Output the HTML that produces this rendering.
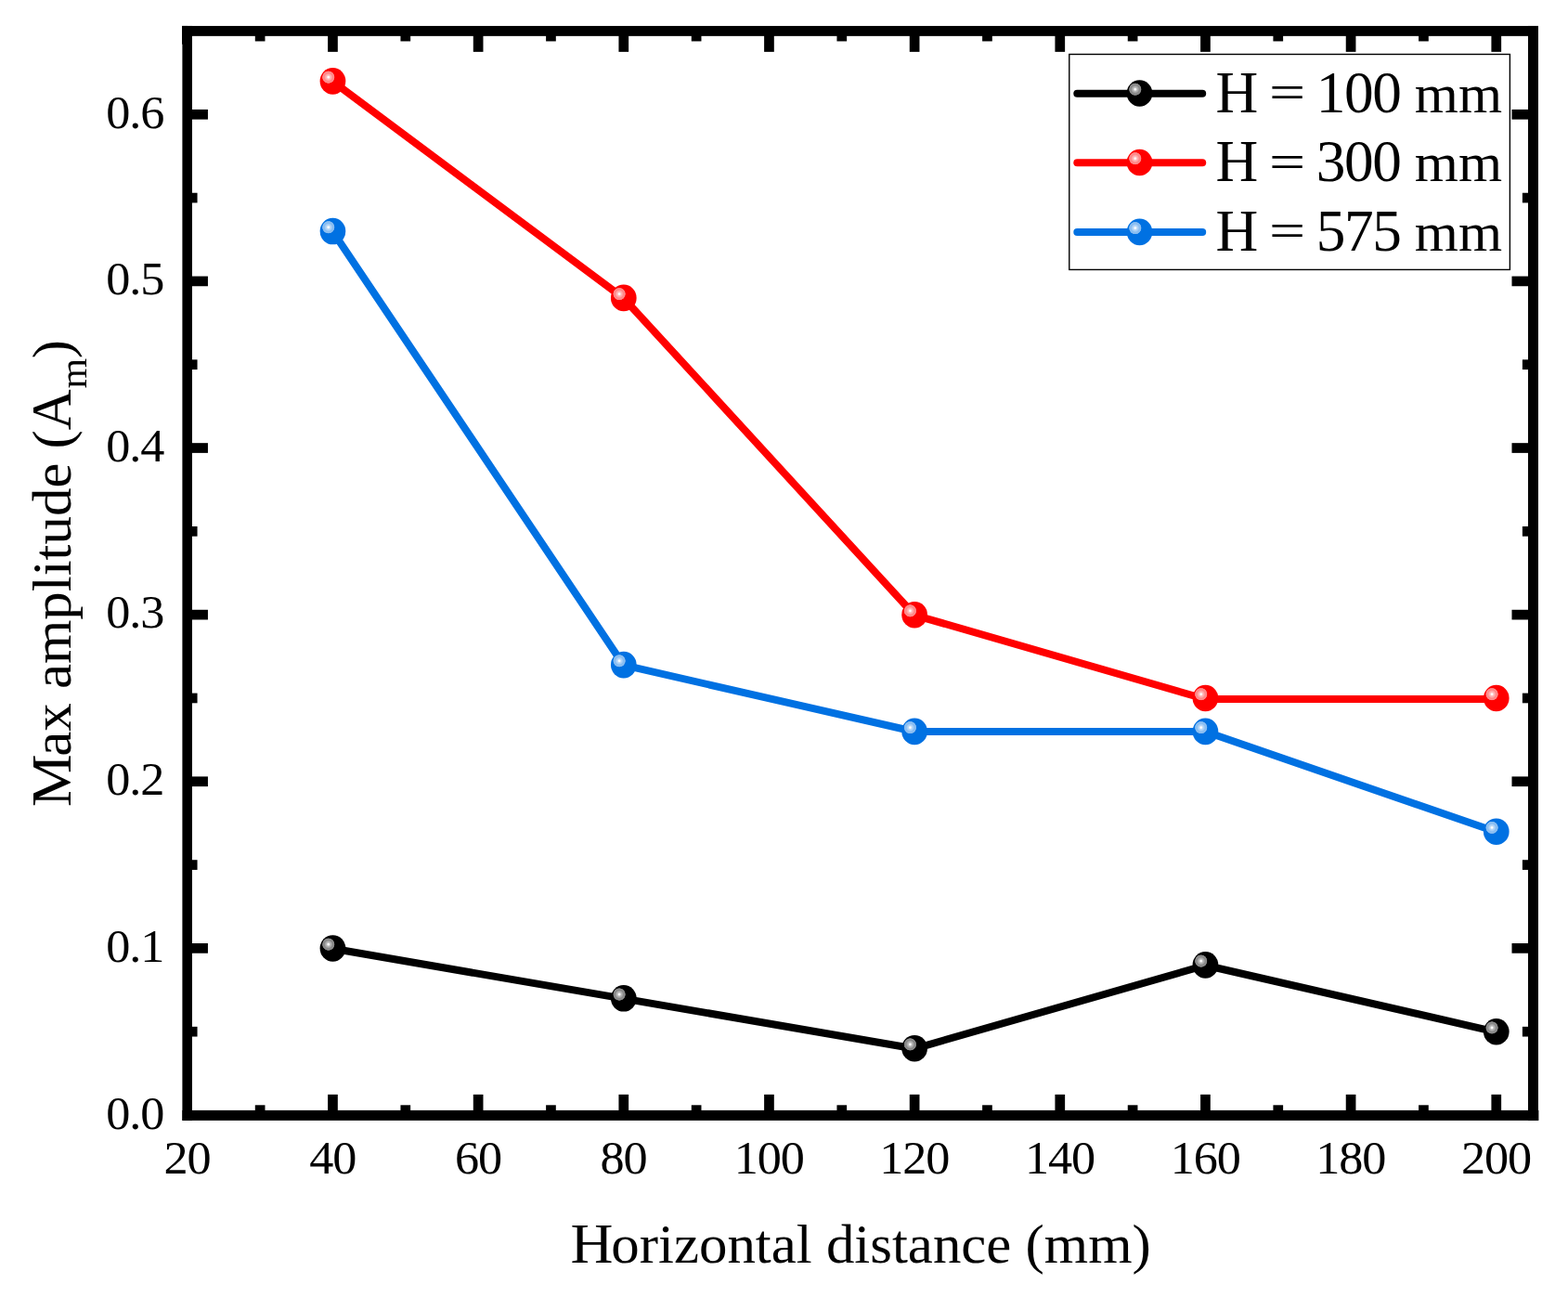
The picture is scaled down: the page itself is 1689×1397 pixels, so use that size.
<!DOCTYPE html>
<html lang="en">
<head>
<meta charset="utf-8">
<title>Max amplitude vs horizontal distance</title>
<style>
html,body{margin:0;padding:0;background:#fff;}
body{width:1689px;height:1397px;overflow:hidden;}
svg{display:block;}
text{font-family:"Liberation Serif","DejaVu Serif",serif;fill:#000;}
.tick{font-size:52.25px;letter-spacing:-1.125px;}
.lab{font-size:61.0px;}
.leg{font-size:60.6px;}
</style>
</head>
<body>
<svg width="1689" height="1397" viewBox="0 0 1689 1397" role="img" aria-label="Max amplitude versus horizontal distance for three heights">
<defs>
<radialGradient id="gk" gradientUnits="userSpaceOnUse" cx="-4.7" cy="-4.3" r="6.9" fx="-4.7" fy="-4.3"><stop offset="0" stop-color="#ffffff"/><stop offset="0.1" stop-color="#ffffff"/><stop offset="0.28" stop-color="#bdbdbd"/><stop offset="0.5" stop-color="#a3a3a3"/><stop offset="0.66" stop-color="#858585"/><stop offset="0.84" stop-color="#8f8f8f"/><stop offset="0.94" stop-color="#707070"/><stop offset="1.0" stop-color="#000000"/></radialGradient>
<g id="mk"><ellipse rx="13.85" ry="14.3" fill="#000000"/><circle cx="-4.7" cy="-4.3" r="6.9" fill="url(#gk)"/></g>
<radialGradient id="gr" gradientUnits="userSpaceOnUse" cx="-4.7" cy="-4.3" r="6.9" fx="-4.7" fy="-4.3"><stop offset="0" stop-color="#ffffff"/><stop offset="0.1" stop-color="#ffffff"/><stop offset="0.28" stop-color="#ffbdbd"/><stop offset="0.5" stop-color="#ffa3a3"/><stop offset="0.66" stop-color="#ff8585"/><stop offset="0.84" stop-color="#ff8f8f"/><stop offset="0.94" stop-color="#ff7070"/><stop offset="1.0" stop-color="#ff0000"/></radialGradient>
<g id="mr"><ellipse rx="13.85" ry="14.3" fill="#ff0000"/><circle cx="-4.7" cy="-4.3" r="6.9" fill="url(#gr)"/></g>
<radialGradient id="gb" gradientUnits="userSpaceOnUse" cx="-4.7" cy="-4.3" r="6.9" fx="-4.7" fy="-4.3"><stop offset="0" stop-color="#ffffff"/><stop offset="0.1" stop-color="#ffffff"/><stop offset="0.28" stop-color="#bddaf7"/><stop offset="0.5" stop-color="#a3ccf5"/><stop offset="0.66" stop-color="#85bbf1"/><stop offset="0.84" stop-color="#8fc1f2"/><stop offset="0.94" stop-color="#70afef"/><stop offset="1.0" stop-color="#0071e2"/></radialGradient>
<g id="mb"><ellipse rx="13.85" ry="14.3" fill="#0071e2"/><circle cx="-4.7" cy="-4.3" r="6.9" fill="url(#gb)"/></g>
</defs>
<rect x="0" y="0" width="1689" height="1397" fill="#ffffff"/>
<g fill="#000">
<rect x="353.12" y="1178.90" width="10.7" height="19.00"/><rect x="353.12" y="36.85" width="10.7" height="19.00"/>
<rect x="509.78" y="1178.90" width="10.7" height="19.00"/><rect x="509.78" y="36.85" width="10.7" height="19.00"/>
<rect x="666.44" y="1178.90" width="10.7" height="19.00"/><rect x="666.44" y="36.85" width="10.7" height="19.00"/>
<rect x="823.11" y="1178.90" width="10.7" height="19.00"/><rect x="823.11" y="36.85" width="10.7" height="19.00"/>
<rect x="979.77" y="1178.90" width="10.7" height="19.00"/><rect x="979.77" y="36.85" width="10.7" height="19.00"/>
<rect x="1136.43" y="1178.90" width="10.7" height="19.00"/><rect x="1136.43" y="36.85" width="10.7" height="19.00"/>
<rect x="1293.09" y="1178.90" width="10.7" height="19.00"/><rect x="1293.09" y="36.85" width="10.7" height="19.00"/>
<rect x="1449.75" y="1178.90" width="10.7" height="19.00"/><rect x="1449.75" y="36.85" width="10.7" height="19.00"/>
<rect x="1606.42" y="1178.90" width="10.7" height="19.00"/><rect x="1606.42" y="36.85" width="10.7" height="19.00"/>
<rect x="274.79" y="1190.30" width="10.7" height="7.60"/><rect x="274.79" y="36.85" width="10.7" height="7.60"/>
<rect x="431.45" y="1190.30" width="10.7" height="7.60"/><rect x="431.45" y="36.85" width="10.7" height="7.60"/>
<rect x="588.11" y="1190.30" width="10.7" height="7.60"/><rect x="588.11" y="36.85" width="10.7" height="7.60"/>
<rect x="744.77" y="1190.30" width="10.7" height="7.60"/><rect x="744.77" y="36.85" width="10.7" height="7.60"/>
<rect x="901.44" y="1190.30" width="10.7" height="7.60"/><rect x="901.44" y="36.85" width="10.7" height="7.60"/>
<rect x="1058.10" y="1190.30" width="10.7" height="7.60"/><rect x="1058.10" y="36.85" width="10.7" height="7.60"/>
<rect x="1214.76" y="1190.30" width="10.7" height="7.60"/><rect x="1214.76" y="36.85" width="10.7" height="7.60"/>
<rect x="1371.42" y="1190.30" width="10.7" height="7.60"/><rect x="1371.42" y="36.85" width="10.7" height="7.60"/>
<rect x="1528.09" y="1190.30" width="10.7" height="7.60"/><rect x="1528.09" y="36.85" width="10.7" height="7.60"/>
<rect x="204.95" y="1016.03" width="19.00" height="10.7"/><rect x="1628.50" y="1016.03" width="19.50" height="10.7"/>
<rect x="204.95" y="836.41" width="19.00" height="10.7"/><rect x="1628.50" y="836.41" width="19.50" height="10.7"/>
<rect x="204.95" y="656.79" width="19.00" height="10.7"/><rect x="1628.50" y="656.79" width="19.50" height="10.7"/>
<rect x="204.95" y="477.17" width="19.00" height="10.7"/><rect x="1628.50" y="477.17" width="19.50" height="10.7"/>
<rect x="204.95" y="297.55" width="19.00" height="10.7"/><rect x="1628.50" y="297.55" width="19.50" height="10.7"/>
<rect x="204.95" y="117.93" width="19.00" height="10.7"/><rect x="1628.50" y="117.93" width="19.50" height="10.7"/>
<rect x="204.95" y="1105.84" width="7.60" height="10.7"/><rect x="1639.90" y="1105.84" width="8.10" height="10.7"/>
<rect x="204.95" y="926.22" width="7.60" height="10.7"/><rect x="1639.90" y="926.22" width="8.10" height="10.7"/>
<rect x="204.95" y="746.60" width="7.60" height="10.7"/><rect x="1639.90" y="746.60" width="8.10" height="10.7"/>
<rect x="204.95" y="566.98" width="7.60" height="10.7"/><rect x="1639.90" y="566.98" width="8.10" height="10.7"/>
<rect x="204.95" y="387.36" width="7.60" height="10.7"/><rect x="1639.90" y="387.36" width="8.10" height="10.7"/>
<rect x="204.95" y="207.74" width="7.60" height="10.7"/><rect x="1639.90" y="207.74" width="8.10" height="10.7"/>
<rect x="196" y="27.95" width="1461.0" height="10.90"/>
<rect x="196.4" y="1195.9" width="1461.00" height="11.00"/>
<rect x="196.4" y="27.95" width="10.55" height="1178.95"/>
<rect x="1646.0" y="27.95" width="11.00" height="1178.95"/>
<rect x="196" y="27.95" width="6" height="19.7"/>
</g>
<g class="tick" text-anchor="middle">
<text transform="translate(201.56 1264.2) scale(1 0.975)">20</text>
<text transform="translate(358.22 1264.2) scale(1 0.975)">40</text>
<text transform="translate(514.88 1264.2) scale(1 0.975)">60</text>
<text transform="translate(671.54 1264.2) scale(1 0.975)">80</text>
<text transform="translate(828.21 1264.2) scale(1 0.975)">100</text>
<text transform="translate(984.87 1264.2) scale(1 0.975)">120</text>
<text transform="translate(1141.53 1264.2) scale(1 0.975)">140</text>
<text transform="translate(1298.19 1264.2) scale(1 0.975)">160</text>
<text transform="translate(1454.85 1264.2) scale(1 0.975)">180</text>
<text transform="translate(1611.52 1264.2) scale(1 0.975)">200</text>
</g>
<g class="tick" text-anchor="end">
<text transform="translate(176.3 1216.25) scale(1 0.975)">0.0</text>
<text transform="translate(176.3 1036.34) scale(1 0.975)">0.1</text>
<text transform="translate(176.3 855.55) scale(1 0.975)">0.2</text>
<text transform="translate(176.3 676.27) scale(1 0.975)">0.3</text>
<text transform="translate(176.3 496.70) scale(1 0.975)">0.4</text>
<text transform="translate(176.3 317.13) scale(1 0.975)">0.5</text>
<text transform="translate(176.3 137.56) scale(1 0.975)">0.6</text>
</g>
<text class="lab" transform="translate(614.4 1359.6) scale(0.998 0.975)"><tspan font-size="63.74" letter-spacing="-1.98">H</tspan>orizontal distance (mm)</text>
<text class="lab" transform="translate(76.4 868.9) rotate(-90) scale(0.9983 0.975)"><tspan font-size="63.74" letter-spacing="-2.44">M</tspan>ax amplitude (<tspan font-size="63.74" textLength="44.04" lengthAdjust="spacingAndGlyphs">A</tspan><tspan font-size="42.0" dx="0.7" dy="17.2">m</tspan><tspan dx="-0.4" dy="-17.2">)</tspan></text>
<path d="M358.47 1021.78 L671.79 1075.67 L985.12 1129.55 L1298.44 1039.74 L1611.77 1111.59" fill="none" stroke="#000000" stroke-width="8.0" stroke-linejoin="round" stroke-linecap="butt"/>
<use href="#mk" x="358.47" y="1021.43"/>
<use href="#mk" x="671.79" y="1075.32"/>
<use href="#mk" x="985.12" y="1129.20"/>
<use href="#mk" x="1298.44" y="1039.39"/>
<use href="#mk" x="1611.77" y="1111.24"/>
<path d="M358.47 87.76 L671.79 321.26 L985.12 662.54 L1298.44 753.00 L1611.77 753.00" fill="none" stroke="#ff0000" stroke-width="8.0" stroke-linejoin="round" stroke-linecap="butt"/>
<use href="#mr" x="358.47" y="87.41"/>
<use href="#mr" x="671.79" y="320.91"/>
<use href="#mr" x="985.12" y="662.19"/>
<use href="#mr" x="1298.44" y="752.00"/>
<use href="#mr" x="1611.77" y="752.00"/>
<path d="M358.47 249.41 L671.79 716.43 L985.12 788.00 L1298.44 788.00 L1611.77 896.05" fill="none" stroke="#0071e2" stroke-width="8.0" stroke-linejoin="round" stroke-linecap="butt"/>
<use href="#mb" x="358.47" y="249.06"/>
<use href="#mb" x="671.79" y="716.08"/>
<use href="#mb" x="985.12" y="787.92"/>
<use href="#mb" x="1298.44" y="787.92"/>
<use href="#mb" x="1611.77" y="895.70"/>
<rect x="1151.77" y="58.48" width="474.62" height="231.97" fill="#fff" stroke="#000" stroke-width="1.4"/>
<path d="M1160.3 100.7 H1295.2" fill="none" stroke="#000000" stroke-width="8.0" stroke-linecap="round"/>
<use href="#mk" x="1227.5" y="100.50"/>
<text class="leg" transform="translate(1309.5 120.5) scale(1 0.99)"><tspan font-size="63.33" letter-spacing="-1.97">H</tspan> <tspan font-size="53" dx="-1.5" dy="-3.4" textLength="39.17" lengthAdjust="spacingAndGlyphs">=</tspan><tspan dx="-3.49" dy="3.4"> </tspan><tspan font-size="63.33" letter-spacing="-1.36">100</tspan> mm</text>
<path d="M1160.3 175.2 H1295.2" fill="none" stroke="#ff0000" stroke-width="8.0" stroke-linecap="round"/>
<use href="#mr" x="1227.5" y="175.00"/>
<text class="leg" transform="translate(1309.5 195.3) scale(1 0.99)"><tspan font-size="63.33" letter-spacing="-1.97">H</tspan> <tspan font-size="53" dx="-1.5" dy="-3.4" textLength="39.17" lengthAdjust="spacingAndGlyphs">=</tspan><tspan dx="-3.49" dy="3.4"> </tspan><tspan font-size="63.33" letter-spacing="-1.36">300</tspan> mm</text>
<path d="M1160.3 250.1 H1295.2" fill="none" stroke="#0071e2" stroke-width="8.0" stroke-linecap="round"/>
<use href="#mb" x="1227.5" y="249.90"/>
<text class="leg" transform="translate(1309.5 269.8) scale(1 0.99)"><tspan font-size="63.33" letter-spacing="-1.97">H</tspan> <tspan font-size="53" dx="-1.5" dy="-3.4" textLength="39.17" lengthAdjust="spacingAndGlyphs">=</tspan><tspan dx="-3.49" dy="3.4"> </tspan><tspan font-size="63.33" letter-spacing="-1.36">575</tspan> mm</text>
</svg>
</body>
</html>
